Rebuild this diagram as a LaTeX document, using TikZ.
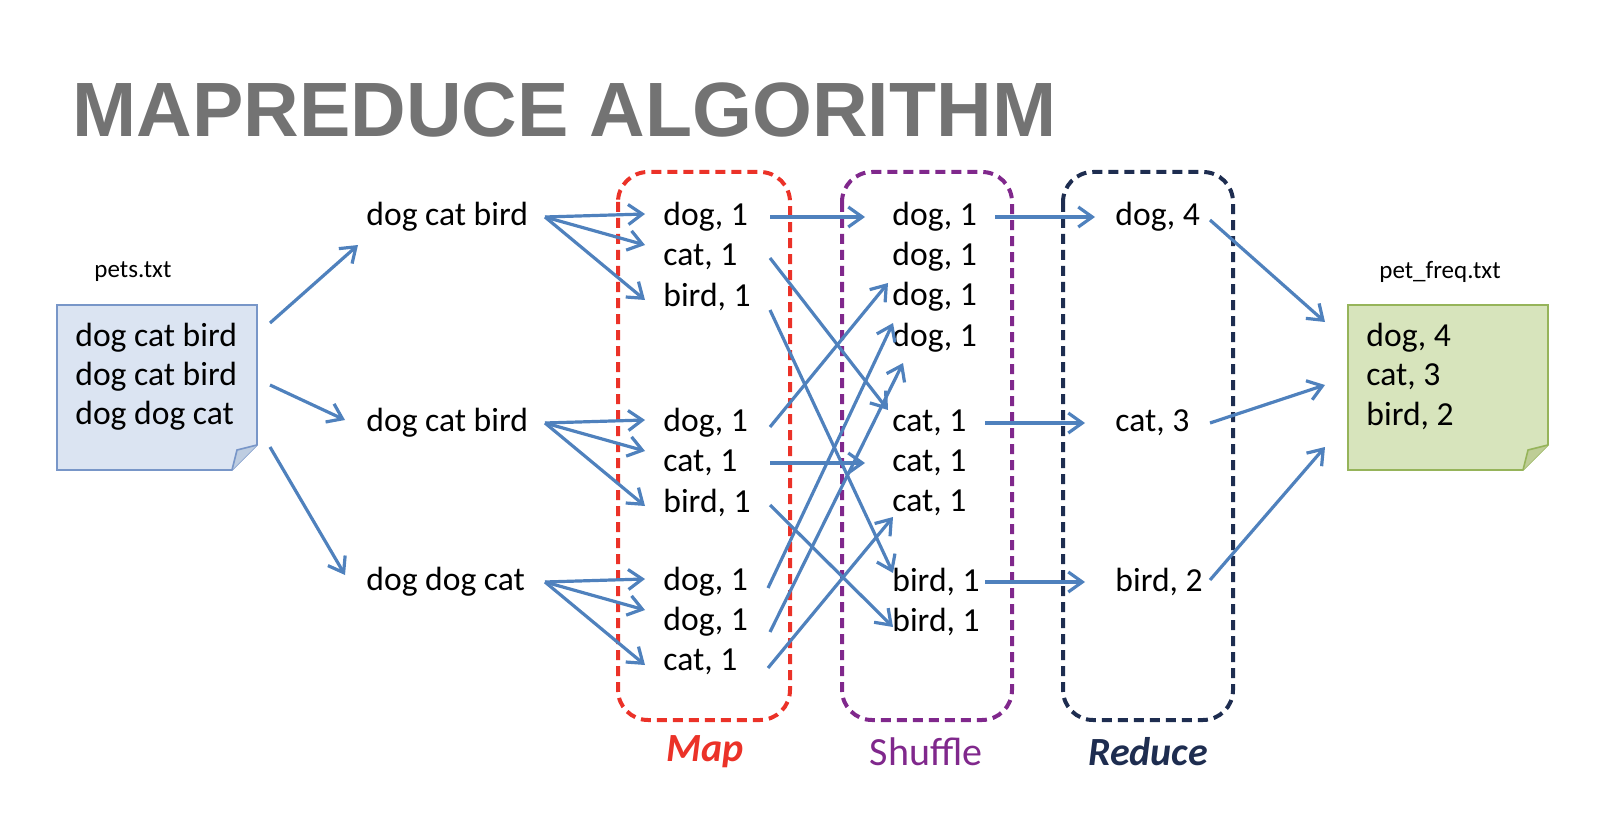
\documentclass[tikz,border=0pt]{standalone}
\usepackage{fontspec}
\setmainfont{Carlito}
\newfontfamily\titlefont{Liberation Sans}
\usetikzlibrary{arrows.meta}
\definecolor{arr}{RGB}{79,129,189}
\definecolor{mapred}{RGB}{235,50,40}
\definecolor{shufpur}{RGB}{128,40,140}
\definecolor{rednavy}{RGB}{30,45,80}
\begin{document}
\begin{tikzpicture}[x=0.5pt,y=-0.5pt,
  txt/.style={anchor=west,inner sep=0pt,font=\fontsize{16.8}{18}\selectfont},
  small/.style={inner sep=0pt,font=\fontsize{12.5}{14}\selectfont},
  ar/.style={draw=arr,line width=1.6pt,-{Straight Barb[length=7pt,width=10pt,line width=1.6pt]}},
  phase/.style={line width=2pt,dashed,dash pattern=on 5pt off 3pt,rounded corners=15pt},
  lbl/.style={font=\fontsize{20}{24}\selectfont}]
\useasboundingbox (0,0) rectangle (1600,818);
\node[anchor=west,inner sep=0pt,text=black!55,font=\titlefont\bfseries\fontsize{38.5}{44}\selectfont] (title) at (72,110) {MAPREDUCE ALGORITHM};
% documents
\draw[draw={rgb,255:red,120;green,150;blue,200},fill={rgb,255:red,219;green,228;blue,242},line width=0.8pt]
  (57,305) -- (257,305) -- (257,445) -- (232,470) -- (57,470) -- cycle;
\draw[draw={rgb,255:red,120;green,150;blue,200},fill={rgb,255:red,190;green,205;blue,225},line width=0.8pt] (257,445) -- (237,450) -- (232,470);
\draw[draw={rgb,255:red,150;green,180;blue,90},fill={rgb,255:red,215;green,228;blue,188},line width=0.8pt]
  (1348,305) -- (1548,305) -- (1548,445) -- (1523,470) -- (1348,470) -- cycle;
\draw[draw={rgb,255:red,150;green,180;blue,90},fill={rgb,255:red,190;green,205;blue,150},line width=0.8pt] (1548,445) -- (1528,450) -- (1523,470);
\node[small] (pl) at (133,272) {pets.txt};
\node[small] (ql) at (1440,272) {pet\_freq.txt};
\node[txt] (i1) at (75,338) {dog cat bird};
\node[txt] (i2) at (75,377) {dog cat bird};
\node[txt] (i3) at (75,416) {dog dog cat};
\node[txt] (o1) at (1366,338) {dog, 4};
\node[txt] (o2) at (1366,377) {cat, 3};
\node[txt] (o3) at (1366,416) {bird, 2};
% phase boxes
\draw[phase,mapred] (618,172) rectangle (790,720);
\draw[phase,shufpur] (842,172) rectangle (1012,720);
\draw[phase,rednavy] (1063,172) rectangle (1233,720);
\node[lbl,text=mapred,font=\bfseries\itshape\fontsize{20}{24}\selectfont] (lm) at (705,752) {Map};
\node[lbl,text=shufpur] (ls) at (926,752) {Shuffle};
\node[lbl,text=rednavy,font=\bfseries\itshape\fontsize{20}{24}\selectfont] (lr) at (1148,752) {Reduce};
% splits
\node[txt] (s1) at (366,217) {dog cat bird};
\node[txt] (s2) at (366,423) {dog cat bird};
\node[txt] (s3) at (366,582) {dog dog cat};
% map
\foreach \n/\y/\t in {m1/217/{dog, 1},m2/257/{cat, 1},m3/297/{bird, 1},m4/423/{dog, 1},m5/463/{cat, 1},m6/503/{bird, 1},m7/582/{dog, 1},m8/622/{dog, 1},m9/662/{cat, 1}}
  \node[txt] (\n) at (663,\y) {\t};
% shuffle
\foreach \n/\y/\t in {h1/217/{dog, 1},h2/257/{dog, 1},h3/297/{dog, 1},h4/338/{dog, 1},h5/423/{cat, 1},h6/463/{cat, 1},h7/503/{cat, 1},h8/582/{bird, 1},h9/622/{bird, 1}}
  \node[txt] (\n) at (892,\y) {\t};
% reduce
\node[txt] (r1) at (1115,217) {dog, 4};
\node[txt] (r2) at (1115,423) {cat, 3};
\node[txt] (r3) at (1115,582) {bird, 2};
% coordinates & arrows
\coordinate (d1) at (270,323); \coordinate (d2) at (270,385); \coordinate (d3) at (270,447);
\coordinate (s1i) at (358,245); \coordinate (s2i) at (345,420); \coordinate (s3i) at (345,575);
\draw[ar] (d1) -- (s1i); \draw[ar] (d2) -- (s2i); \draw[ar] (d3) -- (s3i);
\foreach \s/\y in {1/217,2/423,3/582}{
  \coordinate (so\s) at (545,\y);
  \draw[ar] (so\s) -- ++(100,-3);
  \draw[ar] (so\s) -- ++(100,28);
  \draw[ar] (so\s) -- ++(100,83);
}
\coordinate (a1) at (770,217); \coordinate (b1) at (865,217);
\coordinate (a2) at (770,258); \coordinate (b2) at (888,410);
\coordinate (a3) at (770,310); \coordinate (b3) at (893,573);
\coordinate (a4) at (770,427); \coordinate (b4) at (888,283);
\coordinate (a5) at (770,463); \coordinate (b5) at (865,463);
\coordinate (a6) at (770,505); \coordinate (b6) at (893,627);
\coordinate (a7) at (768,588); \coordinate (b7) at (893,323);
\coordinate (a8) at (770,632); \coordinate (b8) at (903,363);
\coordinate (a9) at (768,668); \coordinate (b9) at (893,517);
\foreach \i in {1,...,9} \draw[ar] (a\i) -- (b\i);
\coordinate (c1) at (995,217); \coordinate (e1) at (1095,217);
\coordinate (c2) at (985,423); \coordinate (e2) at (1085,423);
\coordinate (c3) at (985,582); \coordinate (e3) at (1085,582);
\foreach \i in {1,2,3} \draw[ar] (c\i) -- (e\i);
\coordinate (f1) at (1210,220); \coordinate (g1) at (1325,322);
\coordinate (f2) at (1210,423); \coordinate (g2) at (1325,385);
\coordinate (f3) at (1210,580); \coordinate (g3) at (1325,447);
\foreach \i in {1,2,3} \draw[ar] (f\i) -- (g\i);
\end{tikzpicture}
\end{document}
